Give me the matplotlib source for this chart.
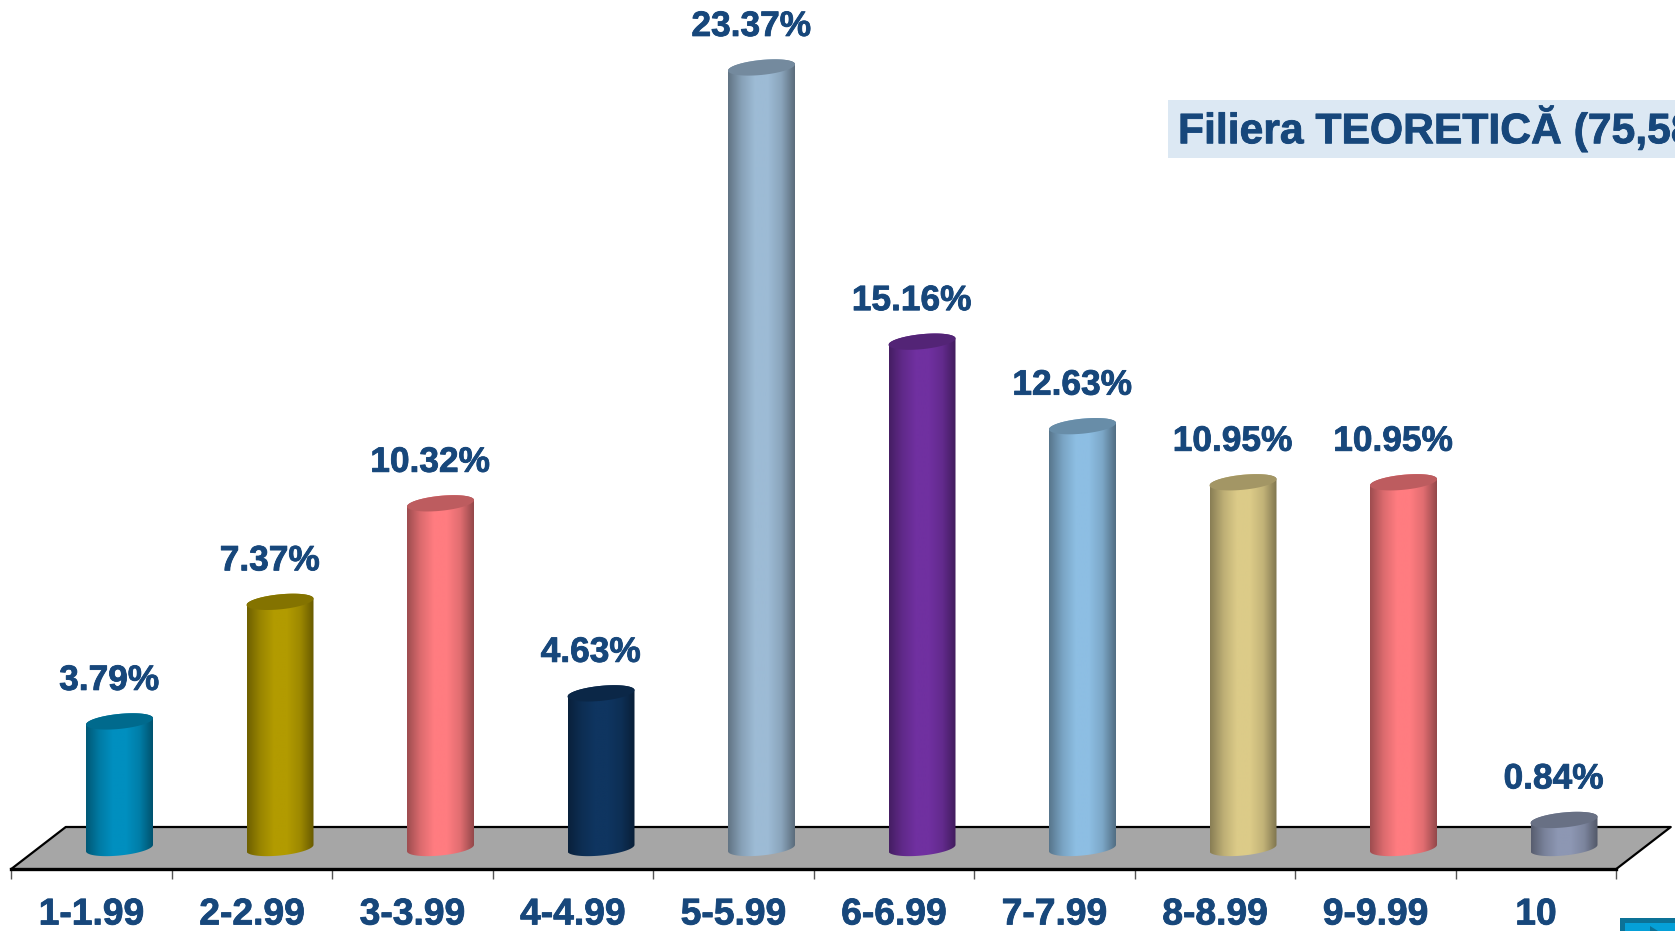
import numpy as np
import matplotlib
matplotlib.use("Agg")
import matplotlib.pyplot as plt
import matplotlib.patheffects as pe
from matplotlib.colors import LinearSegmentedColormap, to_rgb
from matplotlib.patches import Polygon, PathPatch, Rectangle
from matplotlib.path import Path

categories = ["1-1.99", "2-2.99", "3-3.99", "4-4.99", "5-5.99", "6-6.99", "7-7.99", "8-8.99", "9-9.99", "10"]
values = [3.79, 7.37, 10.32, 4.63, 23.37, 15.16, 12.63, 10.95, 10.95, 0.84]
bar_colors = ["#008FBF", "#B29B00", "#FF7C80", "#0F3560", "#9DBBD5", "#7030A0", "#8DBEE3", "#DCCB88", "#FF7C80", "#8D97B3"]
box_title = "Filiera TEORETICĂ (75,58%)"

text_color = "#17477B"
plt.rcParams["font.family"] = ["Liberation Sans", "DejaVu Sans"]
plt.rcParams["font.weight"] = "bold"

W, H = 1675, 931
fig = plt.figure(figsize=(W / 100, H / 100), dpi=100)
ax = fig.add_axes([0, 0, 1, 1])
heavy = [pe.withStroke(linewidth=0.6, foreground=text_color)]

# one category = 160.5 px, one percent = 33.4 px
px_x = 160.5
px_y = 33.4
x0 = 91.5
xlim = (-x0 / px_x, (W - x0) / px_x)
ylim = ((848 - H) / px_y, 848 / px_y)
ax.set_xlim(xlim)
ax.set_ylim(ylim)
for s in ["top", "left", "right"]:
    ax.spines[s].set_visible(False)
ax.yaxis.set_visible(False)

front = -21 / px_y
back = 21 / px_y
skew = 54.5 / px_x
n = len(categories)

# floor of the 3d chart
floor = [(-0.5, front), (n - 0.5, front), (n - 0.5 + skew, back), (-0.5 + skew, back)]
ax.add_patch(Polygon(floor, closed=True, facecolor="#A6A6A6", edgecolor="none", zorder=1))
ax.plot([floor[0][0], floor[3][0], floor[2][0], floor[1][0]],
        [floor[0][1], floor[3][1], floor[2][1], floor[1][1]], color="black", lw=1.6, zorder=2)

ax.spines["bottom"].set_position(("data", front))
ax.spines["bottom"].set_bounds(-0.5, n - 0.5)
ax.spines["bottom"].set_linewidth(2.4)
ax.spines["bottom"].set_zorder(3)
ax.set_xticks(np.arange(n + 1) - 0.5)
ax.set_xticklabels([])
ax.tick_params(axis="x", which="major", length=7.5, width=1, color="#555555")
ax.set_xticks(np.arange(n), minor=True)
ax.set_xticklabels(categories, minor=True, fontsize=26.8, fontweight="bold", color=text_color, path_effects=heavy)
ax.tick_params(axis="x", which="minor", length=0, pad=20.5)

# cylinders
offset = 28 / px_x
half_w = 33.5 / px_x
rad_y = 7.5 / px_y
tilt = 3.2 / px_y
t = np.linspace(0, np.pi, 60)
tt = np.linspace(0, 2 * np.pi, 120)


def shade(col, k):
    return tuple(c * k for c in to_rgb(col))


for i, (v, col) in enumerate(zip(values, bar_colors)):
    cx = i + offset
    # lower half of the base, left to right, then upper half of the top, right to left
    base = np.c_[cx + half_w * np.cos(t + np.pi), rad_y * np.sin(t + np.pi) + tilt * np.cos(t + np.pi)]
    top = np.c_[cx + half_w * np.cos(t), v + rad_y * np.sin(t) + tilt * np.cos(t)]
    clip = PathPatch(Path(np.vstack([base, top, base[:1]])), transform=ax.transData,
                     facecolor="none", edgecolor="none")
    ax.add_patch(clip)

    cmap = LinearSegmentedColormap.from_list(
        "bar", [shade(col, 0.62), shade(col, 0.86), to_rgb(col), to_rgb(col), shade(col, 0.88), shade(col, 0.58)])
    grad = np.linspace(0, 1, 128).reshape(1, -1)
    im = ax.imshow(grad, cmap=cmap, aspect="auto", zorder=4,
                   extent=[cx - half_w, cx + half_w, -1, v + 1], interpolation="bilinear")
    im.set_clip_path(clip)

    # top cap
    cap = np.c_[cx + half_w * np.cos(tt), v + rad_y * np.sin(tt) + tilt * np.cos(tt)]
    ax.add_patch(Polygon(cap, closed=True, facecolor=shade(col, 0.74), edgecolor="none", zorder=5))

    ax.text(cx - 10.5 / px_x, v + 41 / px_y, f"{v:.2f}%", ha="center", va="center",
            fontsize=25.4, fontweight="bold", color=text_color, zorder=6, path_effects=heavy)

# imshow changes the limits
ax.set_xlim(xlim)
ax.set_ylim(ylim)

# label box, runs off the right edge like in the slide
fig.patches.append(Rectangle((1168 / W, 1 - 158 / H), (W - 1168) / W, 58 / H, transform=fig.transFigure,
                             facecolor="#DCE8F3", edgecolor="none", zorder=0.5))
fig.text(1178 / W, 1 - 129 / H, box_title, ha="left", va="center", fontsize=30.7, fontweight="bold",
         color=text_color, zorder=7, path_effects=heavy)

# corner of the slide button
fig.patches.append(Rectangle((1620 / W, 0), (W - 1620) / W, 13 / H, transform=fig.transFigure,
                             facecolor="#0C7297", edgecolor="none", zorder=0.5))
fig.patches.append(Rectangle((1625 / W, 0), (W - 1625) / W, 8 / H, transform=fig.transFigure,
                             facecolor="#05A0D8", edgecolor="none", zorder=0.6))
fig.patches.append(Polygon([(1650 / W, 0), (1650 / W, 5 / H), (1658 / W, 0)], closed=True,
                           transform=fig.transFigure, facecolor="#0C7297", edgecolor="none", zorder=0.7))

fig.savefig("out.png", dpi=100)
